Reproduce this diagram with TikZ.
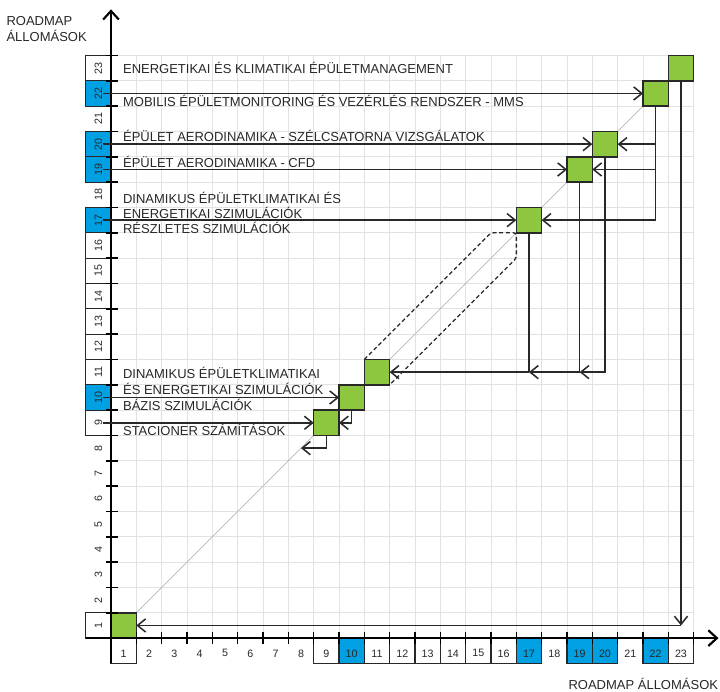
\documentclass[tikz,border=0pt]{standalone}
\usepackage{fontspec}
\setmainfont{Liberation Sans}
\usepackage{tikz}
\usetikzlibrary{arrows.meta}
\pgfdeclarelayer{bg}
\pgfsetlayers{bg,main}
\definecolor{lgreen}{RGB}{141,198,63}
\definecolor{lblue}{RGB}{0,160,226}
\definecolor{ink}{RGB}{40,40,40}
\definecolor{gridc}{RGB}{226,226,226}
\definecolor{diagc}{RGB}{185,185,185}
\begin{document}
\begin{tikzpicture}[
  x=1cm,y=1cm,
  gridln/.style={draw=gridc,line width=0.8pt},
  diagln/.style={draw=diagc,line width=0.9pt},
  axisln/.style={draw=black,line width=2.4pt,-{Straight Barb[length=0.34cm,width=0.62cm]}},
  tickln/.style={draw=black,line width=1.6pt},
  conn/.style={draw=ink,line width=1.7pt},
  arr/.style={conn,-{Straight Barb[length=0.32cm,width=0.52cm]}},
  dashln/.style={draw=ink,line width=1.5pt,dash pattern=on 4.5pt off 3pt,rounded corners=3pt},
  station/.style={draw=ink,line width=1.6pt,fill=lgreen,minimum size=1cm,inner sep=0pt,outer sep=0pt},
  wbox/.style={draw=ink,line width=1.4pt,fill=white,minimum size=1cm,inner sep=0pt,outer sep=0pt},
  bbox/.style={wbox,fill=lblue},
  dig/.style={font=\fontsize{12}{12}\selectfont,text=ink,inner sep=0pt},
  lab/.style={font=\fontsize{14.6}{15}\selectfont,text=ink,inner sep=0pt,anchor=base west},
]
\useasboundingbox (-4.382,-2.092) rectangle (24.04,25.19);

% label boxes on both axes
\foreach \k in {1,9,11,12,13,14,15,16,23} {
  \node[wbox] (ry\k) at (-0.5,\k-0.5) {};
  \node[wbox] (cx\k) at (\k-0.5,-0.5) {};
}
\foreach \k in {10,17,19,20,22} {
  \node[bbox] (ry\k) at (-0.5,\k-0.5) {};
  \node[bbox] (cx\k) at (\k-0.5,-0.5) {};
}
\foreach \k in {1,...,23} {
  \node[dig,rotate=90] (ny\k) at (-0.5,\k-0.5) {\k};
  \node[dig] (nx\k) at (\k-0.5,-0.6) {\k};
}

% stations on the diagonal
\foreach \k in {1,9,10,11,17,19,20,22,23}
  \node[station] (s\k) at (\k-0.5,\k-0.5) {};

% axes and ticks
\coordinate (xend) at (23.98,0);
\coordinate (yend) at (0,24.82);
\draw[axisln] (-1,0) -- (xend);
\draw[axisln] (0,-1) -- (yend);
\foreach \k in {1,...,23} {
  \draw[tickln] (-0.2,\k) -- (0.28,\k);
  \draw[tickln] (\k,-0.25) -- (\k,0.23);
}

% background: grid, diagonal, dashed envelope
\coordinate (du) at (15,16);
\coordinate (dl) at (16,15);
\begin{pgfonlayer}{bg}
  \fill[white] (-4.382,-2.092) rectangle (24.04,25.19);
  \draw[gridln] (0,0) grid (23,23);
  \draw[diagln] (s1.north east) -- (s22.north east);
  \draw[dashln] (s11.north west) -- (du) -- (s17.south west) -- (dl) -- (s11.south east);
\end{pgfonlayer}

% connectors from the station labels
\coordinate (l22) at (-0.33,21.5);
\coordinate (l20) at (-0.33,19.5);
\coordinate (l19) at (-0.33,18.5);
\coordinate (l17) at (-0.33,16.5);
\coordinate (l10) at (-0.33,9.5);
\coordinate (l9) at (-0.33,8.5);
\draw[arr] (l22) -- (s22.west);
\draw[arr] (l20) -- (s20.west);
\draw[arr] (l19) -- (s19.west);
\draw[arr] (l17) -- (s17.west);
\draw[arr] (l10) -- (s10.west);
\draw[arr] (l9) -- (s9.west);

% feedback connectors
\draw[arr] (s22.south) -- (s22.south |- s17.east) -- (s17.east);
\draw[arr] (s22.south |- s20.east) -- (s20.east);
\draw[arr] (s22.south |- s19.east) -- (s19.east);

\draw[arr] (s20.south) -- (s20.south |- s11.east) -- (s19.south |- s11.east);
\draw[conn] (s19.south) -- (s19.south |- s11.east);
\draw[arr] (s19.south |- s11.east) -- (s17.south |- s11.east);
\draw[conn] (s17.south) -- (s17.south |- s11.east);
\draw[arr] (s17.south |- s11.east) -- (s11.east);

\draw[arr] (s23.south) -- (s23.south |- s1.east);
\draw[arr] (s23.south |- s1.east) -- (s1.east);

\draw[arr] (s10.south) -- (s10.south |- s9.east) -- (s9.east);
\coordinate (d9) at (7.5,7.5);
\draw[arr] (s9.south) -- (s9.south |- d9) -- (d9);

% texts
\node[lab] (t23) at (0.47,22.27) {ENERGETIKAI ÉS KLIMATIKAI ÉPÜLETMANAGEMENT};
\node[lab] (t22) at (0.47,21.0) {MOBILIS ÉPÜLETMONITORING ÉS VEZÉRLÉS RENDSZER - MMS};
\node[lab] (t20) at (0.47,19.6) {ÉPÜLET AERODINAMIKA - SZÉLCSATORNA VIZSGÁLATOK};
\node[lab] (t19) at (0.47,18.57) {ÉPÜLET AERODINAMIKA - CFD};
\node[lab] (t17a) at (0.47,17.16) {DINAMIKUS ÉPÜLETKLIMATIKAI ÉS};
\node[lab] (t17b) at (0.47,16.57) {ENERGETIKAI SZIMULÁCIÓK};
\node[lab] (t17c) at (0.47,15.98) {RÉSZLETES SZIMULÁCIÓK};
\node[lab] (t10a) at (0.47,10.25) {DINAMIKUS ÉPÜLETKLIMATIKAI};
\node[lab] (t10b) at (0.47,9.62) {ÉS ENERGETIKAI SZIMULÁCIÓK};
\node[lab] (t10c) at (0.47,9.0) {BÁZIS SZIMULÁCIÓK};
\node[lab] (t9) at (0.47,8.01) {STACIONER SZÁMÍTÁSOK};

\node[lab] (ya) at (-4.13,24.2) {ROADMAP};
\node[lab] (yb) at (-4.13,23.54) {ÁLLOMÁSOK};
\node[lab,anchor=base east] (xa) at (23.97,-2.04) {ROADMAP ÁLLOMÁSOK};
\end{tikzpicture}
\end{document}
